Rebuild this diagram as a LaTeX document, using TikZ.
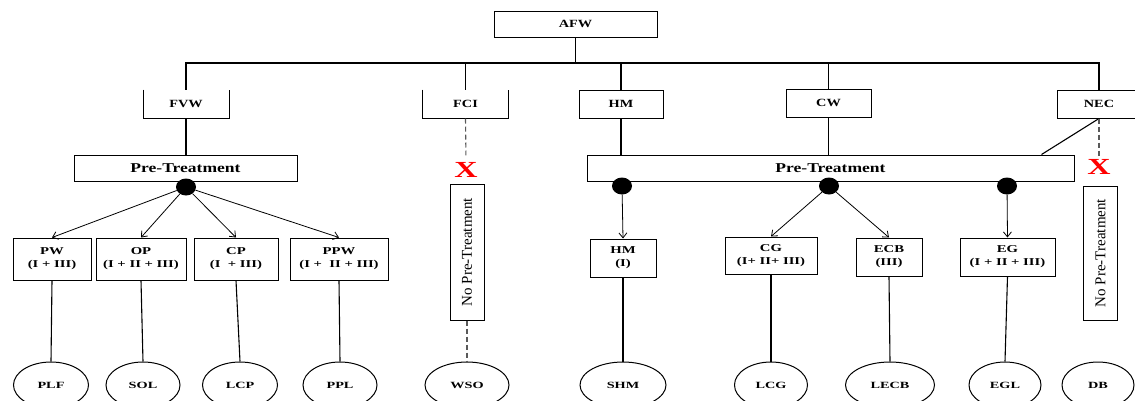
\documentclass[tikz,border=0pt]{standalone}
\usepackage{fontspec}
\setmainfont{Liberation Serif}
\newfontfamily\lblfont{Liberation Serif}[FakeStretch=1.3]
\newfontfamily\subfont{Liberation Serif}[FakeStretch=1.4]
\newfontfamily\ovalfont{Liberation Serif}[FakeStretch=1.5]
\usetikzlibrary{shapes.geometric,arrows.meta}
\tikzset{
    top-box/.style = {draw, line width=1pt, rectangle, minimum height=28pt, inner sep=2pt, font=\lblfont\bfseries\fontsize{11}{12}\selectfont},
    open-box/.style = {top-box, draw=none},
    pre-box/.style = {draw, line width=1pt, rectangle, minimum height=26pt, fill=white, font=\lblfont\bfseries\fontsize{13.5}{14}\selectfont},
    sub-box/.style = {draw, line width=1pt, rectangle, align=center, inner sep=1pt, font=\subfont\bfseries\fontsize{10.5}{13}\selectfont},
    nopre-box/.style = {draw, line width=1pt, rectangle, rotate=90, minimum height=34pt, font=\fontsize{15}{15}\selectfont},
    product/.style = {draw, line width=1pt, ellipse, minimum height=46pt, inner sep=0pt, font=\ovalfont\bfseries\fontsize{9.5}{10}\selectfont},
    junction/.style = {fill=black, ellipse, minimum width=20pt, minimum height=17pt, inner sep=0pt},
    cross-mark/.style = {text=red, inner sep=0pt, font=\subfont\bfseries\fontsize{23}{23}\selectfont},
    tree-line/.style = {line width=1.6pt},
    branch-line/.style = {line width=1.1pt},
    flow-arrow/.style = {line width=0.8pt, -{Straight Barb[length=5pt,width=8pt]}},
    skip-line/.style = {draw=gray!70!black, line width=1.1pt, dash pattern=on 5pt off 3pt},
}
\begin{document}
\begin{tikzpicture}[x=1pt, y=-1pt]
\useasboundingbox (0,0) rectangle (1135,400);
% waste streams
\node [top-box, minimum width=163pt, minimum height=26pt] (afw) at (575.5,24) {AFW};
\node [open-box, minimum width=85pt] (fvw) at (186,104) {FVW};
\node [open-box, minimum width=85pt] (fci) at (465.5,104) {FCI};
\node [top-box, minimum width=84pt] (hm) at (621,104) {HM};
\node [top-box, minimum width=85pt] (cw) at (828.5,103) {CW};
\node [top-box, minimum width=84pt] (nec) at (1099,104) {NEC};
\foreach \n in {fvw,fci}
    \draw [line width=1pt] (\n.north west) |- (\n.south east) -- (\n.north east);
\coordinate (bus) at (575.5,63);
\draw [tree-line] (afw.south) -- (afw.south |- bus);
\draw [tree-line] (fvw.north) -- (fvw.north |- bus) -- (nec.north |- bus) -- (nec.north);
\foreach \n in {fci,hm,cw}
    \draw [tree-line] (\n.north |- bus) -- (\n.north);

% pre-treatment
\node [pre-box, minimum width=223pt] (pre-fvw) at (185.5,168) {Pre-Treatment};
\node [pre-box, minimum width=487pt] (pre-mix) at (830.5,168) {Pre-Treatment};
\draw [branch-line] (fvw.south) -- (fvw.south |- pre-fvw.north);
\draw [branch-line] (hm.south) -- (hm.south |- pre-mix.north);
\draw [branch-line] (cw.south) -- (cw.south |- pre-mix.north);
\draw [branch-line] (nec.south) -- ([xshift=-33pt]pre-mix.north east);
\node [junction] (j-fvw) at (186,187) {};
\node [junction] (j-hm) at (622,186) {};
\node [junction] (j-cw) at (829,186) {};
\node [junction] (j-eg) at (1007,186) {};

% treated fractions
\node [sub-box, minimum width=78pt, minimum height=42pt] (pw) at (52,259) {PW\\(I + III)};
\node [sub-box, minimum width=90pt, minimum height=42pt] (op) at (141,259) {OP\\(I + II + III)};
\node [sub-box, minimum width=84pt, minimum height=42pt] (cp) at (236,259) {CP\\(I \ + III)};
\node [sub-box, minimum width=98pt, minimum height=42pt] (ppw) at (339,259) {PPW\\(I + \ II + III)};
\node [sub-box, minimum width=66pt, minimum height=38pt] (hmi) at (623,258) {HM\\(I)};
\node [sub-box, minimum width=92pt, minimum height=37pt] (cg) at (771,255.5) {CG\\(I+ II+ III)};
\node [sub-box, minimum width=66pt, minimum height=38pt] (ecb) at (889,257) {ECB\\(III)};
\node [sub-box, minimum width=95pt, minimum height=38pt] (eg) at (1007.5,257) {EG\\(I + II + III)};
\foreach \n in {pw,op,cp,ppw}
    \draw [flow-arrow] (j-fvw) -- (\n.north);
\draw [flow-arrow] (j-hm) -- (hmi.north);
\draw [flow-arrow] (j-cw) -- (cg.north);
\draw [flow-arrow] (j-cw) -- (ecb.north);
\draw [flow-arrow] (j-eg) -- (eg.north);

% no pre-treatment
\node [cross-mark] (x-fci) at (466,170) {X};
\node [cross-mark] (x-nec) at (1099,167) {X};
\node [nopre-box, minimum width=136pt] (nopre-fci) at (467,252) {No Pre-Treatment};
\node [nopre-box, minimum width=134pt] (nopre-nec) at (1100.5,253) {No Pre-Treatment};
\draw [skip-line, shorten >=7pt] (fci.south) -- (x-fci.north);
\draw [skip-line, shorten >=2pt] (nec.south) -- (x-nec.north);

% products
\node [product, minimum width=75pt] (plf) at (51,385) {PLF};
\node [product, minimum width=74pt] (sol) at (143,385) {SOL};
\node [product, minimum width=75pt] (lcp) at (240,385) {LCP};
\node [product, minimum width=74pt] (ppl) at (340,385) {PPL};
\node [product, minimum width=84pt] (wso) at (467,385) {WSO};
\node [product, minimum width=86pt] (shm) at (623,385) {SHM};
\node [product, minimum width=73pt] (lcg) at (771,385) {LCG};
\node [product, minimum width=89pt] (lecb) at (890,385) {LECB};
\node [product, minimum width=72pt] (egl) at (1005,385) {EGL};
\node [product, minimum width=72pt] (db) at (1098,385) {DB};
\foreach \src/\dst in {pw/plf, op/sol, cp/lcp, ppw/ppl, hmi/shm, cg/lcg, ecb/lecb, eg/egl}
    \draw [branch-line] (\src.south) -- (\dst.north);
\draw [skip-line] (nopre-fci.west) -- (wso.north);
\end{tikzpicture}
\end{document}
